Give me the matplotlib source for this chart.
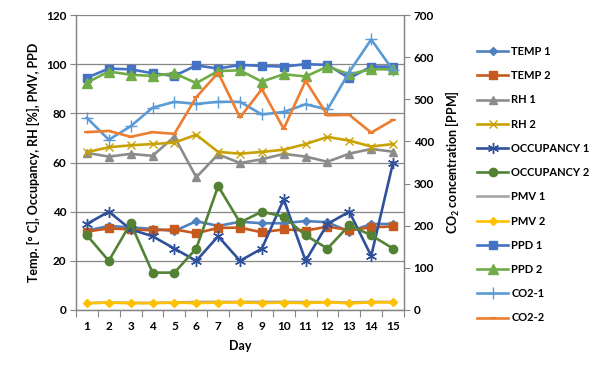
import matplotlib
matplotlib.use("Agg")
import matplotlib.pyplot as plt
import numpy as np

plt.rcParams['font.family'] = ['Lato', 'DejaVu Sans']
plt.rcParams['mathtext.fontset'] = 'custom'
plt.rcParams['mathtext.bf'] = 'Lato:bold'
plt.rcParams['mathtext.rm'] = 'Lato:bold'

days = list(range(1, 16))
temp1 = [32.3, 34.2, 33.6, 33.0, 32.1, 36.1, 34.2, 35.9, 35.3, 35.3, 36.2, 35.7, 31.9, 35.0, 35.0]
temp2 = [31.9, 33.2, 32.8, 32.4, 32.8, 31.2, 33.4, 33.5, 31.6, 32.8, 32.3, 33.9, 32.5, 33.6, 34.0]
rh1 = [63.9, 62.4, 63.5, 62.7, 70.5, 54.0, 63.3, 59.8, 61.3, 63.5, 62.4, 60.3, 63.6, 65.5, 64.4]
rh2 = [64.2, 66.2, 67.0, 67.5, 68.1, 71.3, 64.3, 63.6, 64.3, 65.2, 67.5, 70.4, 68.9, 66.5, 67.5]
occ1 = [35, 40, 32.8, 30, 25, 20, 30, 20, 25, 45, 20, 35, 40, 22, 60]
occ2 = [30.4, 20, 35.3, 15.2, 15.2, 25, 50.4, 35.6, 40, 38, 30.4, 25, 34.5, 30.4, 25]
pmv1 = [2.8, 3.0, 2.9, 2.9, 3.0, 3.3, 3.3, 3.3, 3.3, 3.3, 3.2, 3.2, 3.1, 3.3, 3.3]
pmv2 = [2.8, 3.0, 2.8, 2.8, 3.0, 2.8, 3.0, 3.1, 2.8, 3.0, 2.8, 3.2, 2.7, 3.1, 3.1]
ppd1 = [94.5, 98.2, 97.9, 96.3, 95.2, 99.5, 98.2, 99.7, 99.3, 99.0, 100.0, 99.7, 94.3, 99.0, 99.0]
ppd2 = [92.5, 97.0, 95.7, 95.2, 96.3, 92.3, 97.2, 97.5, 92.9, 95.9, 95.0, 99.0, 95.9, 97.9, 97.9]
co2_1 = [456, 404, 436, 480, 494, 489, 494, 494, 464, 470, 488, 476, 565, 642, 569]
co2_2 = [422, 425, 411, 422, 418, 505, 563, 457, 524, 430, 544, 462, 463, 421, 451]

fig = plt.figure(figsize=(6.0, 3.71), dpi=100)
ax = fig.add_axes([76/600, 61/371, 328/600, 295/371])
ax2 = ax.twinx()

x = np.array(days)
lw = 1.9
h = []
h += ax.plot(x, temp1, color='#4F81BD', lw=lw, marker='D', ms=4.5, label='TEMP 1')
h += ax.plot(x, temp2, color='#C65A1E', lw=lw, marker='s', ms=5.5, label='TEMP 2')
h += ax.plot(x, rh1, color='#8C8C8C', lw=lw, marker='^', ms=6, label='RH 1')
h += ax.plot(x, rh2, color='#C9A100', lw=lw, marker='x', ms=6, mew=1, label='RH 2')
h += ax.plot(x, occ1, color='#2F519B', lw=lw, marker=(6, 2, 0), ms=8, mew=1, label='OCCUPANCY 1')
h += ax.plot(x, occ2, color='#548235', lw=lw, marker='o', ms=6, label='OCCUPANCY 2')
h += ax.plot(x, pmv1, color='#A6A6A6', lw=lw, label='PMV 1')
h += ax.plot(x, pmv2, color='#FFC000', lw=lw, marker='D', ms=4.5, label='PMV 2')
h += ax.plot(x, ppd1, color='#4472C4', lw=lw, marker='s', ms=6, label='PPD 1')
h += ax.plot(x, ppd2, color='#70AD47', lw=lw, marker='^', ms=6.5, label='PPD 2')
h += ax2.plot(x, co2_1, color='#5B9BD5', lw=lw, marker='+', ms=8, mew=1, label='CO2-1')
h += ax2.plot(x, co2_2, color='#ED7D31', lw=lw, marker='_', ms=5, mew=1.5, label='CO2-2')

gc = '#868686'
ax.set_xlim(0.5, 15.5)
ax.set_ylim(0, 120)
ax2.set_ylim(0, 700)
ax.set_yticks(np.arange(0, 121, 20))
ax2.set_yticks(np.arange(0, 701, 100))
ax.set_xticks(x)
ax.set_xticks(np.arange(0.5, 15.6, 1), minor=True)
ax.tick_params(axis='x', which='major', length=0, pad=8, labelsize=8.5)
ax.tick_params(axis='x', which='minor', length=5, color=gc, width=0.8)
ax.tick_params(axis='y', length=4, color=gc, width=0.8, labelsize=8.5, pad=3)
ax2.tick_params(axis='y', length=4, color=gc, width=0.8, labelsize=8.5, pad=3)
for a in (ax, ax2):
    for lab in a.get_xticklabels() + a.get_yticklabels():
        lab.set_fontweight('bold')
    a.spines['top'].set_visible(False)
    for s in ('left', 'right', 'bottom'):
        a.spines[s].set_color(gc)
        a.spines[s].set_linewidth(0.9)
ax.grid(axis='y', color=gc, lw=0.9)
ax.set_axisbelow(True)

ax.set_xlabel('Day', fontsize=9, fontweight='bold', labelpad=6)
ax.set_ylabel('Temp. [° C], Occupancy, RH [%], PMV, PPD', fontsize=9, fontweight='bold', labelpad=4)
ax2.set_ylabel(r'CO$_{\mathbf{2}}$ concentration [PPM]', fontsize=9, fontweight='bold', labelpad=7)

leg = fig.legend(handles=h, loc='upper left', bbox_to_anchor=(477/600, 1 - 46/371),
                 frameon=False, fontsize=8, handlelength=2.8, handletextpad=0.3,
                 labelspacing=1.19, borderaxespad=0, borderpad=0)
for t in leg.get_texts():
    t.set_fontweight('bold')

fig.savefig('out.png', dpi=100)
